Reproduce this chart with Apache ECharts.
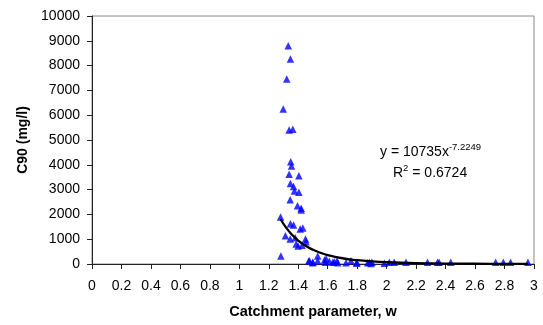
<!DOCTYPE html>
<html>
<head>
<meta charset="utf-8">
<script src="https://cdn.jsdelivr.net/npm/echarts@6/dist/echarts.min.js"></script>
<style>
html, body { margin: 0; padding: 0; background: #fff; }
#chart { width: 543px; height: 325px; }
</style>
</head>
<body>
<div id="chart"></div>
<script>
// measured points (w, C90)
const wValues = [
  1.332, 1.347, 1.322, 1.298, 1.338, 1.363,
  1.349, 1.354, 1.338, 1.404, 1.347, 1.368, 1.374, 1.404, 1.345, 1.395,
  1.420, 1.420, 1.280, 1.347, 1.368, 1.413, 1.431, 1.313, 1.345, 1.379,
  1.449, 1.453, 1.386, 1.399, 1.426, 1.282,
  1.476, 1.498, 1.532, 1.532, 1.578, 1.589, 1.611, 1.645, 1.668, 1.724,
  1.758, 1.796, 1.871, 1.894, 1.984, 2.051,
  1.471, 1.499, 1.584, 1.634, 1.663, 1.798, 1.882, 1.900, 2.018, 2.131,
  2.277, 2.345, 2.356, 2.435, 2.740, 2.792, 2.841, 2.959
];
const c90Values = [
  8800, 8270, 7460, 6250, 5400, 5430,
  4125, 3950, 3615, 3560, 3250, 3120, 2940, 2890, 2590, 2350,
  2245, 2180, 1895, 1625, 1570, 1410, 1450, 1140, 1010, 1060,
  1010, 900, 806, 726, 754, 323,
  133, 52, 323, 133, 161, 214, 109, 93, 50, 52,
  133, 28, 52, 20, 28, 68,
  121, 68, 68, 68, 121, 68, 68, 68, 68, 68,
  68, 68, 68, 68, 68, 68, 68, 68
];

// power trendline as drawn on the chart
const trendW = [1.28, 1.32, 1.36, 1.40, 1.45, 1.50, 1.55, 1.60, 1.70, 1.80, 1.90, 2.00, 2.20, 2.40, 2.60, 2.80, 2.96];
const trendC = [1804, 1445, 1164, 944, 733, 573, 453, 360, 232, 154, 104, 72, 36, 19, 11, 6, 4];

const equationText = 'y = 10735x';
const exponentText = '-7.2249';
const r2Text = '= 0.6724';

const points = wValues.map((w, i) => [w, c90Values[i]]);
const trend = trendW.map((w, i) => [w, trendC[i]]);

const font = 'Liberation Sans, Arial, sans-serif';

const chart = echarts.init(document.getElementById('chart'));
chart.setOption({
  backgroundColor: '#fff',
  animation: false,
  grid: { left: 92, right: 9, top: 16, bottom: 61, show: true, borderColor: '#888', borderWidth: 1 },
  xAxis: {
    type: 'value', min: 0, max: 3, interval: 0.2,
    name: 'Catchment parameter, w', nameLocation: 'middle', nameGap: 40,
    nameTextStyle: { fontFamily: font, fontSize: 14.5, fontWeight: 'bold', color: '#000' },
    axisLine: { onZero: false, lineStyle: { color: '#222', width: 1 } },
    axisTick: { show: true, length: 5, lineStyle: { color: '#222' } },
    axisLabel: { fontFamily: font, fontSize: 14, color: '#000', margin: 15,
      formatter: v => String(Math.round(v * 10) / 10) },
    splitLine: { show: false }
  },
  yAxis: {
    type: 'value', min: 0, max: 10000, interval: 1000,
    name: 'C90 (mg/l)', nameLocation: 'middle', nameGap: 62, nameRotate: 90,
    nameTextStyle: { fontFamily: font, fontSize: 14, fontWeight: 'bold', color: '#000' },
    axisLine: { show: true, lineStyle: { color: '#222', width: 1 } },
    axisTick: { show: true, length: 5, lineStyle: { color: '#222' } },
    axisLabel: { fontFamily: font, fontSize: 14, color: '#000', margin: 12,
      formatter: v => String(v) },
    splitLine: { show: false }
  },
  series: [
    {
      type: 'scatter', data: points, symbol: 'triangle', symbolSize: 7.5,
      itemStyle: { color: '#0000ff' }, z: 2
    },
    {
      type: 'line', data: trend, smooth: true, symbol: 'none',
      lineStyle: { color: '#000', width: 2.3 }, z: 3
    }
  ],
  graphic: [
    {
      type: 'text', left: 380, top: 142,
      style: {
        text: '{a|' + equationText + '}{s|' + exponentText + '}',
        rich: {
          a: { fontFamily: font, fontSize: 14, color: '#000', lineHeight: 17, verticalAlign: 'bottom' },
          s: { fontFamily: font, fontSize: 9.5, color: '#000', lineHeight: 17, verticalAlign: 'top' }
        }
      }
    },
    {
      type: 'text', left: 393, top: 163,
      style: {
        text: '{a|R}{s|2}{a| ' + r2Text + '}',
        rich: {
          a: { fontFamily: font, fontSize: 14, color: '#000', lineHeight: 17, verticalAlign: 'bottom' },
          s: { fontFamily: font, fontSize: 9.5, color: '#000', lineHeight: 17, verticalAlign: 'top' }
        }
      }
    }
  ]
});
</script>
</body>
</html>
